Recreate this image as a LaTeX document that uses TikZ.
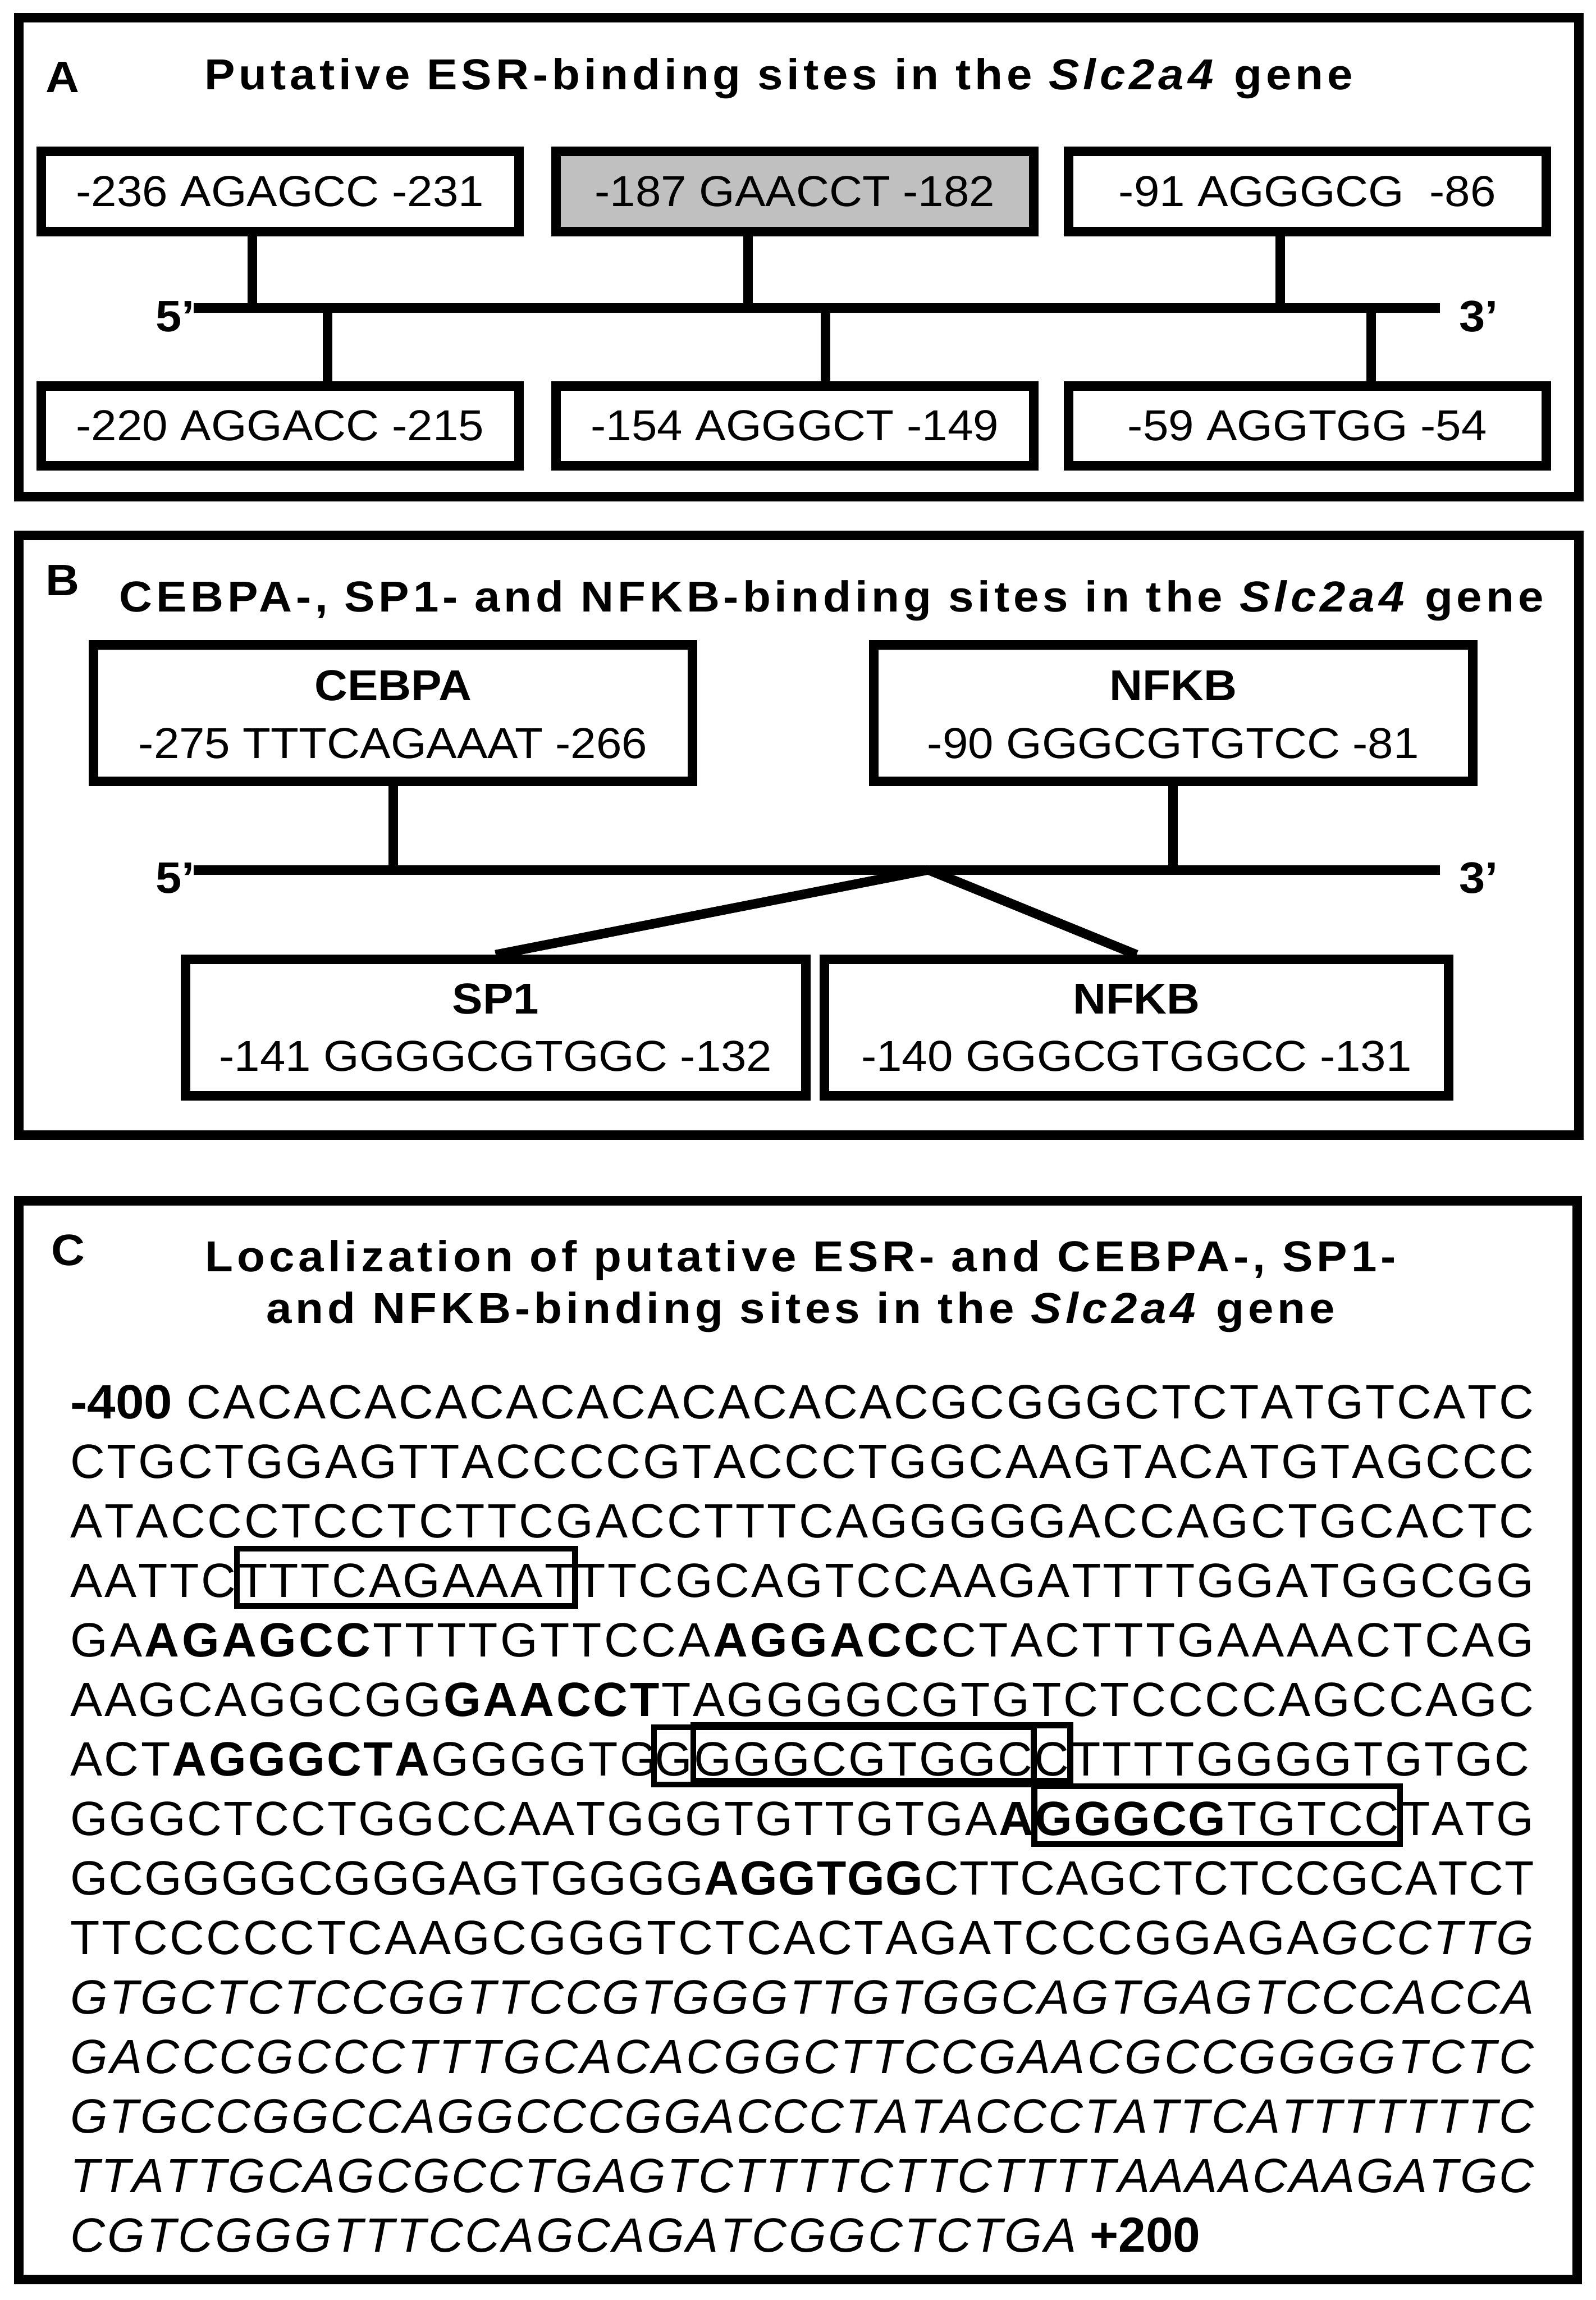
\documentclass[tikz,border=0pt]{standalone}
\usepackage{fontspec}
\setmainfont{Liberation Sans}[FakeStretch=1.06]
\newfontfamily\spacedfont{Liberation Sans}[FakeStretch=1.06,LetterSpace=9]
\newfontfamily\seqfam{Liberation Sans}
\usetikzlibrary{calc}
% letter-by-letter spreading of sequence rows
\newdimen\ls
\newcount\nch
\def\sq#1{\sqx#1\relax}
\def\sqx#1{\ifx\relax#1\else#1\kern\ls\global\advance\nch by 1 \expandafter\sqx\fi}
\newcommand\seqsize{\seqfam\fontsize{32.8}{40}\selectfont}
\newcommand\rowls[2]{\global\nch=0 \global\ls=0pt \setbox0\hbox{\seqsize #2}%
  \expandafter\xdef\csname ls@#1\endcsname{\the\dimexpr(998pt-\wd0)/\numexpr\nch-1\relax\relax}}
\newcommand\usels[1]{\global\ls=\csname ls@#1\endcsname\relax}
\tikzset{
  panel/.style={draw, line width=6.5pt},
  sitebox/.style={draw, line width=6.5pt, minimum width=326pt, minimum height=54.5pt, inner sep=0pt, font=\fontsize{29.5}{35}\selectfont},
  bbox/.style={draw, line width=6.5pt, minimum width=408.5pt, minimum height=93pt, inner sep=0pt},
  tick/.style={line width=6.5pt},
  dna/.style={line width=6.5pt},
  ttl/.style={inner sep=0pt, anchor=base, font={\spacedfont\fontsize{29.5}{35}\selectfont\bfseries}},
  lab/.style={inner sep=0pt, anchor=base west, font={\fontsize{30}{36}\selectfont\bfseries}},
  prime/.style={inner sep=0pt, font={\fontsize{30}{36}\selectfont\bfseries}},
  btxt/.style={inner sep=0pt, anchor=base, font=\fontsize{29.5}{35}\selectfont},
  seq/.style={inner sep=0pt, outer sep=0pt, anchor=base west, font=\seqsize},
  sbox/.style={draw, line width=4pt},
}
\begin{document}
\rowls{r1}{{\rmfamily\bfseries -400\ }\sq{CACACACACACACACACACACGCGGGCTCTATGTCATC}}%
\rowls{r2}{\sq{CTGCTGGAGTTACCCCGTACCCTGGCAAGTACATGTAGCCC}}%
\rowls{r3}{\sq{ATACCCTCCTCTTCGACCTTTCAGGGGGACCAGCTGCACTC}}%
\rowls{r4}{\sq{AATTCTTTCAGAAATTTCGCAGTCCAAGATTTTGGATGGCGG}}%
\rowls{r5}{\sq{GA}\textbf{\sq{AGAGCC}}\sq{TTTTGTTCCA}\textbf{\sq{AGGACC}}\sq{CTACTTTGAAAACTCAG}}%
\rowls{r6}{\sq{AAGCAGGCGG}\textbf{\sq{GAACCT}}\sq{TAGGGGCGTGTCTCCCCAGCCAGC}}%
\rowls{r7}{\sq{ACT}\textbf{\sq{AGGGCTA}}\sq{GGGGTGGGGGCGTGGCCTTTTGGGGTGTGC}}%
\rowls{r8}{\sq{GGGCTCCTGGCCAATGGGTGTTGTGA}\textbf{\sq{AGGGCG}}\sq{TGTCCTATG}}%
\rowls{r9}{\sq{GCGGGGCGGGAGTGGGG}\textbf{\sq{AGGTGG}}\sq{CTTCAGCTCTCCGCATCT}}%
\rowls{r10}{\sq{TTCCCCCTCAAGCGGGTCTCACTAGATCCCGGAGA}\textit{\sq{GCCTTG}}}%
\rowls{r11}{\textit{\sq{GTGCTCTCCGGTTCCGTGGGTTGTGGCAGTGAGTCCCACCA}}}%
\rowls{r12}{\textit{\sq{GACCCGCCCTTTGCACACGGCTTCCGAACGCCGGGGTCTC}}}%
\rowls{r13}{\textit{\sq{GTGCCGGCCAGGCCCGGACCCTATACCCTATTCATTTTTTTC}}}%
\rowls{r14}{\textit{\sq{TTATTGCAGCGCCTGAGTCTTTTCTTCTTTTAAAACAAGATGC}}}%
\begin{tikzpicture}[x=1pt, y=-1pt]
\fill[white] (0,0) rectangle (1088,1568);
\useasboundingbox (0,0) rectangle (1088,1568);

% ---------------- Panel A ----------------
\draw[panel] (13,12) rectangle (1076.5,338.5);
\node[lab] (labA) at (31,63) {A};
\node[ttl] (titA) at (531,61) {Putative ESR-binding sites in the \textit{Slc2a4} gene};

\node[sitebox] (a1) at (191,130.5) {-236 AGAGCC -231};
\node[sitebox, fill={rgb,255:red,192;green,192;blue,192}] (a2) at (542,130.5) {-187 GAACCT -182};
\node[sitebox] (a3) at (891.5,130.5) {-91 AGGGCG \ -86};
\node[sitebox] (a4) at (191,290.25) {-220 AGGACC -215};
\node[sitebox] (a5) at (542,290.25) {-154 AGGGCT -149};
\node[sitebox] (a6) at (891.5,290.25) {-59 AGGTGG -54};

\coordinate (aL) at (132,210);
\coordinate (aR) at (982,210);
\draw[dna] (aL) -- (aR);
\node[prime, anchor=base east] (a5p) at (133,226) {5’};
\node[prime, anchor=base west] (a3p) at (995,226) {3’};

\coordinate (ta1) at (172,210);
\coordinate (ta2) at (510,210);
\coordinate (ta3) at (873,210);
\coordinate (ta4) at (223.5,210);
\coordinate (ta5) at (563,210);
\coordinate (ta6) at (935,210);
\draw[tick] (ta1) -- (ta1 |- a1.south);
\draw[tick] (ta2) -- (ta2 |- a2.south);
\draw[tick] (ta3) -- (ta3 |- a3.south);
\draw[tick] (ta4) -- (ta4 |- a4.north);
\draw[tick] (ta5) -- (ta5 |- a5.north);
\draw[tick] (ta6) -- (ta6 |- a6.north);

% ---------------- Panel B ----------------
\draw[panel] (13,365) rectangle (1076.5,774);
\node[lab] (labB) at (31,406) {B};
\node[ttl] (titB) at (567,417) {CEBPA-, SP1- and NFKB-binding sites in the \textit{Slc2a4} gene};

\node[bbox] (cebpa) at (268,486) {};
\node[bbox] (nfkbt) at (800,486) {};
\node[bbox, minimum width=423pt] (sp1) at (338,700.6) {};
\node[bbox, minimum width=426pt] (nfkbb) at (775,700.6) {};

\node[btxt] (cebpaL) at ($(cebpa.center)+(0,-8.5)$) {\bfseries CEBPA};
\node[btxt] (cebpaS) at ($(cebpa.center)+(0,31)$) {-275 TTTCAGAAAT -266};
\node[btxt] (nfkbtL) at ($(nfkbt.center)+(0,-8.5)$) {\bfseries NFKB};
\node[btxt] (nfkbtS) at ($(nfkbt.center)+(0,31)$) {-90 GGGCGTGTCC -81};
\node[btxt] (sp1L) at ($(sp1.center)+(0,-9.5)$) {\bfseries SP1};
\node[btxt] (sp1S) at ($(sp1.center)+(0,29.5)$) {-141 GGGGCGTGGC -132};
\node[btxt] (nfkbbL) at ($(nfkbb.center)+(0,-9.5)$) {\bfseries NFKB};
\node[btxt] (nfkbbS) at ($(nfkbb.center)+(0,29.5)$) {-140 GGGCGTGGCC -131};

\coordinate (bL) at (132,593);
\coordinate (bR) at (982,593);
\draw[dna] (bL) -- (bR);
\node[prime, anchor=base east] (b5p) at (133,609) {5’};
\node[prime, anchor=base west] (b3p) at (995,609) {3’};
\draw[tick] (cebpa.south) -- (cebpa.south |- bL);
\draw[tick] (nfkbt.south) -- (nfkbt.south |- bL);
\coordinate (bx) at (633,593);
\draw[tick] (bx) -- (sp1.north);
\draw[tick] (bx) -- (nfkbb.north);

% ---------------- Panel C ----------------
\draw[panel] (13,818.5) rectangle (1075.5,1554);
\node[lab] (labC) at (35,862.5) {C};
\node[ttl] (titC1) at (546,867) {Localization of putative ESR- and CEBPA-, SP1-};
\node[ttl] (titC2) at (546,902) {and NFKB-binding sites in the \textit{Slc2a4} gene};

\usels{r1}
\node[seq] (r1) at (48,967) {{\rmfamily\bfseries -400\ }\sq{CACACACACACACACACACACGCGGGCTCTATGTCATC}};
\usels{r2}
\node[seq] (r2) at (48,1007.6) {\sq{CTGCTGGAGTTACCCCGTACCCTGGCAAGTACATGTAGCCC}};
\usels{r3}
\node[seq] (r3) at (48,1048.2) {\sq{ATACCCTCCTCTTCGACCTTTCAGGGGGACCAGCTGCACTC}};
\usels{r4}
\node[seq] (r4a) at (48,1088.8) {\sq{AATTC}};
\node[seq] (r4b) at (r4a.base east) {\sq{TTTCAGAAAT}};
\node[seq] (r4c) at (r4b.base east) {\sq{TTCGCAGTCCAAGATTTTGGATGGCGG}};
\draw[sbox] ($(r4b.base west)+(0,6)+(-0.5\ls,0pt)$) rectangle ($(r4b.base east)+(0,-33)+(-0.5\ls,0pt)$);
\usels{r5}
\node[seq] (r5) at (48,1129.4) {\sq{GA}\textbf{\sq{AGAGCC}}\sq{TTTTGTTCCA}\textbf{\sq{AGGACC}}\sq{CTACTTTGAAAACTCAG}};
\usels{r6}
\node[seq] (r6) at (48,1170) {\sq{AAGCAGGCGG}\textbf{\sq{GAACCT}}\sq{TAGGGGCGTGTCTCCCCAGCCAGC}};
\usels{r7}
\node[seq] (r7a) at (48,1210.6) {\sq{ACT}\textbf{\sq{AGGGCTA}}\sq{GGGGTG}};
\node[seq] (r7b) at ($(r7a.base east)+(-3pt,0pt)$) {\sq{G}};
\node[seq] (r7c) at (r7b.base east) {\sq{GGGCGTGGC}};
\node[seq] (r7d) at (r7c.base east) {\sq{C}};
\node[seq] (r7e) at (r7d.base east) {\sq{TTTTGGGGTGTGC}};
\draw[sbox] ($(r7b.base west)+(0,6)+(-0.5\ls,0pt)$) rectangle ($(r7c.base east)+(0,-33)+(-0.5\ls,0pt)$);
\draw[sbox] ($(r7c.base west)+(0,3.5)+(-0.5\ls,0pt)$) rectangle ($(r7d.base east)+(0,-34.5)+(-0.5\ls,0pt)$);
\usels{r8}
\node[seq] (r8a) at (48,1251.2) {\sq{GGGCTCCTGGCCAATGGGTGTTGTGA}\textbf{\sq{A}}};
\node[seq] (r8b) at (r8a.base east) {\textbf{\sq{GGGCG}}\sq{TGTCC}};
\node[seq] (r8c) at (r8b.base east) {\sq{TATG}};
\draw[sbox] ($(r8b.base west)+(0,6)+(-0.5\ls,0pt)$) rectangle ($(r8b.base east)+(0,-33.5)+(-0.5\ls,0pt)$);
\usels{r9}
\node[seq] (r9) at (48,1291.8) {\sq{GCGGGGCGGGAGTGGGG}\textbf{\sq{AGGTGG}}\sq{CTTCAGCTCTCCGCATCT}};
\usels{r10}
\node[seq] (r10) at (48,1332.4) {\sq{TTCCCCCTCAAGCGGGTCTCACTAGATCCCGGAGA}\textit{\sq{GCCTTG}}};
\usels{r11}
\node[seq] (r11) at (48,1373) {\textit{\sq{GTGCTCTCCGGTTCCGTGGGTTGTGGCAGTGAGTCCCACCA}}};
\usels{r12}
\node[seq] (r12) at (48,1413.6) {\textit{\sq{GACCCGCCCTTTGCACACGGCTTCCGAACGCCGGGGTCTC}}};
\usels{r13}
\node[seq] (r13) at (48,1454.2) {\textit{\sq{GTGCCGGCCAGGCCCGGACCCTATACCCTATTCATTTTTTTC}}};
\usels{r14}
\node[seq] (r14) at (48,1494.8) {\textit{\sq{TTATTGCAGCGCCTGAGTCTTTTCTTCTTTTAAAACAAGATGC}}};
\global\ls=1.45pt
\node[seq] (r15) at (48,1535.4) {\textit{\sq{CGTCGGGTTTCCAGCAGATCGGCTCTGA}}\kern-\ls\ {\bfseries\fontsize{33.5}{40}\selectfont +200}};
\end{tikzpicture}
\end{document}
